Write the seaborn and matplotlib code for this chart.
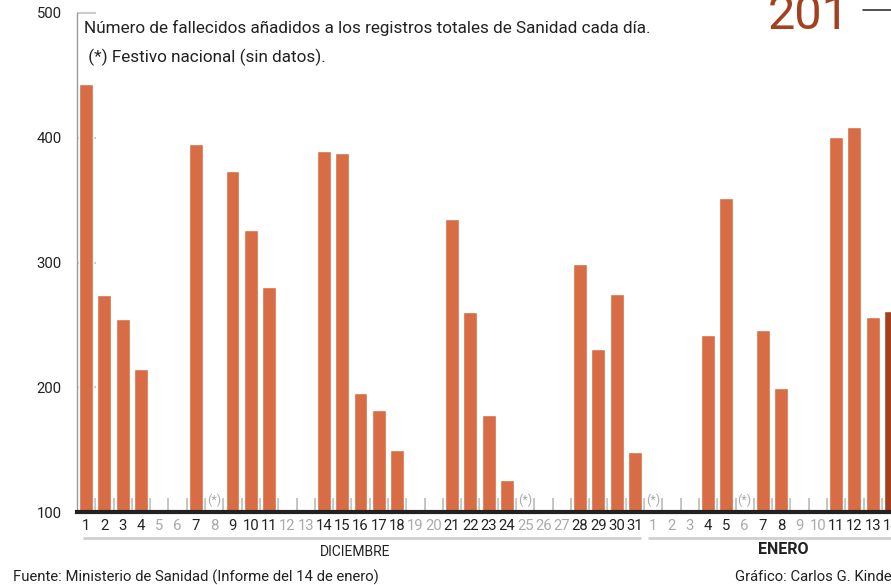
import numpy as np
import pandas as pd
import matplotlib.pyplot as plt
import matplotlib.transforms as mtransforms
from matplotlib.lines import Line2D
import seaborn as sns

# Datos (NaN = sin dato)
dias_dic = list(range(1, 32))
fallecidos_dic = [443, 274, 255, 215, np.nan, np.nan, 395, np.nan, 373, 326,
                  280, np.nan, np.nan, 389, 388, 195, 182, 150, np.nan, np.nan,
                  335, 260, 178, 126, np.nan, np.nan, np.nan, 299, 231, 275,
                  148]
dias_ene = list(range(1, 15))
fallecidos_ene = [np.nan, np.nan, np.nan, 242, 352, np.nan, 246, 199, np.nan, np.nan,
                  401, 409, 256, 261]
festivos = ['12-08', '12-25', '01-01', '01-06']

naranja = '#d86c45'
granate = '#a3401f'

fechas = [f'12-{d:02d}' for d in dias_dic] + [f'01-{d:02d}' for d in dias_ene]
df = pd.DataFrame({
    'fecha': fechas,
    'dia': dias_dic + dias_ene,
    'fallecidos': fallecidos_dic + fallecidos_ene,
})
colores = {f: naranja for f in fechas}
colores[fechas[-1]] = granate

sns.set_style('white')
plt.rcParams['font.family'] = ['Roboto', 'DejaVu Sans']

fig = plt.figure(figsize=(8.91, 5.85), dpi=100)
W, H = 891, 585
ax = fig.add_axes([77 / W, (H - 512) / H, (W - 77) / W, (512 - 13) / H])

sns.barplot(data=df, x='fecha', y='fallecidos', hue='fecha', order=fechas,
            palette=colores, saturation=1, legend=False, width=0.76,
            errorbar=None, ax=ax, zorder=3)

ax.set_ylim(100, 500)
ax.set_xlim(-0.5, 43.75)
ax.set_xlabel('')
ax.set_ylabel('')

# Ejes
for s in ['top', 'right']:
    ax.spines[s].set_visible(False)
ax.spines['left'].set_color('#999999')
ax.spines['left'].set_linewidth(1)
ax.spines['bottom'].set_color('#222222')
ax.spines['bottom'].set_linewidth(3)
ax.spines['bottom'].set_zorder(5)

ax.set_yticks([100, 200, 300, 400, 500])
ax.tick_params(axis='y', left=True, direction='in', length=14, width=1.5,
               color='#cccccc', pad=11, labelsize=10.7, labelcolor='#222222')

pos = np.arange(len(fechas))
ax.set_xticks(pos)
ax.set_xticklabels([str(d) for d in df['dia']])
ax.set_xticks(pos[:-1] + 0.5, minor=True)
ax.tick_params(axis='x', which='major', bottom=False, length=0, pad=5,
               labelsize=10.7)
ax.tick_params(axis='x', which='minor', bottom=True, direction='in', length=10,
               width=1.2, color='#bbbbbb')
for lbl, v in zip(ax.get_xticklabels(), df['fallecidos']):
    lbl.set_color('#aaaaaa' if np.isnan(v) else '#222222')

# Festivos
for f in festivos:
    ax.text(fechas.index(f), 109, '(*)', ha='center', va='center',
            fontsize=9, color='#aaaaaa', zorder=4)

# Meses
trans = mtransforms.blended_transform_factory(ax.transData, ax.transAxes)
ax.plot([-0.1, 30.3], [-0.052, -0.052], transform=trans, color='#d0d0d0',
        lw=2, clip_on=False)
ax.plot([30.75, 46], [-0.052, -0.052], transform=trans, color='#d0d0d0',
        lw=2, clip_on=False)
ax.text(14.7, -0.080, 'DICIEMBRE', transform=trans, ha='center', va='center',
        fontsize=10, color='#222222')
ax.text(38.1, -0.075, 'ENERO', transform=trans, ha='center', va='center',
        fontsize=11.5, fontweight='bold', color='#222222')

# Textos
fig.text(84 / W, 1 - 28 / H,
         'Número de fallecidos añadidos a los registros totales de Sanidad cada día.',
         fontsize=12.3, color='#222222', va='center')
fig.text(84 / W, 1 - 57 / H, ' (*) Festivo nacional (sin datos).',
         fontsize=12.3, color='#222222', va='center')
fig.text(13 / W, 1 - 577 / H, 'Fuente: Ministerio de Sanidad (Informe del 14 de enero)',
         fontsize=10.7, color='#222222', va='center')
fig.text(735 / W, 1 - 577 / H, 'Gráfico: Carlos G. Kindelán',
         fontsize=10.7, color='#222222', va='center')
fig.text(768 / W, 1 - 29 / H, '201', fontsize=35, color=granate, va='baseline')
fig.add_artist(Line2D([863 / W, 1.0], [1 - 10 / H, 1 - 10 / H], color='#333333',
                      lw=1.2, transform=fig.transFigure))

fig.savefig('out.png', dpi=100)
